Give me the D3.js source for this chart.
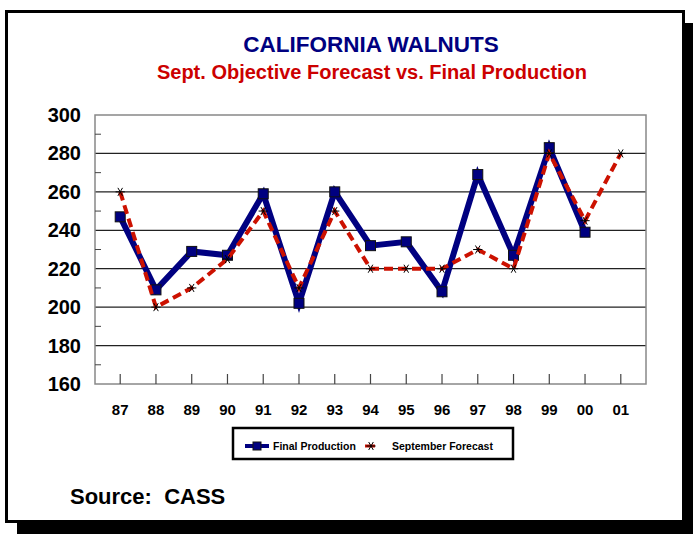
<!DOCTYPE html>
<html><head><meta charset="utf-8">
<script src="https://cdn.jsdelivr.net/npm/d3@7"></script>
<style>
body{margin:0;background:#fff;}
svg text{font-family:"Liberation Sans",Arial,sans-serif;font-weight:bold;}
</style></head>
<body>
<script>
const categories = ["87","88","89","90","91","92","93","94","95","96","97","98","99","00","01"];
const finalProduction = [247,209,229,227,259,202,260,232,234,208,269,227,283,239,null];
const septemberForecast = [260,200,210,225,250,210,250,220,220,220,230,220,280,245,280];
const yTicks = [160,180,200,220,240,260,280,300];
const yMinorTicks = [170,190,210,230,250,270,290];

const W = 693, H = 534;
const svg = d3.select("body").append("svg").attr("width", W).attr("height", H);

// shadow + frame
svg.append("rect").attr("x", 17).attr("y", 23).attr("width", 690).attr("height", 520).attr("fill", "#000");
svg.append("rect").attr("x", 6.5).attr("y", 11.5).attr("width", 677).attr("height", 510)
  .attr("fill", "#fff").attr("stroke", "#000").attr("stroke-width", 3);

// titles
svg.append("text").attr("x", 371).attr("y", 52).attr("text-anchor", "middle")
  .attr("font-size", 22.5).attr("fill", "#000080").text("CALIFORNIA WALNUTS");
svg.append("text").attr("x", 372).attr("y", 79).attr("text-anchor", "middle")
  .attr("font-size", 20).attr("fill", "#CC0000").text("Sept. Objective Forecast vs. Final Production");

const pL = 95, pR = 646, pT = 115, pB = 384;
const x = d3.scalePoint().domain(categories).range([pL, pR]).padding(0.705);
const y = d3.scaleLinear().domain([160, 300]).range([pB, pT]);

const g = svg.append("g");
// gridlines
g.selectAll("line.grid").data(yTicks.filter(v => v > 160 && v < 300)).join("line")
  .attr("x1", pL).attr("x2", pR).attr("y1", d => y(d)).attr("y2", d => y(d))
  .attr("stroke", "#222").attr("stroke-width", 1.2);
// plot border
g.append("rect").attr("x", pL).attr("y", pT).attr("width", pR - pL).attr("height", pB - pT)
  .attr("fill", "none").attr("stroke", "#888").attr("stroke-width", 1.5);
// minor ticks left
g.selectAll("line.minor").data(yMinorTicks).join("line")
  .attr("x1", pL).attr("x2", pL + 6).attr("y1", d => y(d)).attr("y2", d => y(d))
  .attr("stroke", "#444").attr("stroke-width", 1);
// x ticks inside
g.selectAll("line.xt").data(categories).join("line")
  .attr("x1", d => x(d)).attr("x2", d => x(d)).attr("y1", pB).attr("y2", pB - 10)
  .attr("stroke", "#444").attr("stroke-width", 1.2);

// y labels
svg.selectAll("text.yl").data(yTicks).join("text")
  .attr("x", 81).attr("y", d => y(d) + 7).attr("text-anchor", "end")
  .attr("font-size", 20).attr("fill", "#000").text(d => d);
// x labels
svg.selectAll("text.xl").data(categories).join("text")
  .attr("x", d => x(d)).attr("y", 415).attr("text-anchor", "middle")
  .attr("font-size", 15).attr("fill", "#000").text(d => d);

// final production line
const fpData = categories.map((c, i) => ({c, v: finalProduction[i]})).filter(d => d.v != null);
const fcData = categories.map((c, i) => ({c, v: septemberForecast[i]}));
const line = d3.line().x(d => x(d.c)).y(d => y(d.v));
g.append("path").datum(fpData).attr("d", line).attr("fill", "none")
  .attr("stroke", "#000080").attr("stroke-width", 6).attr("stroke-linejoin", "miter");
g.selectAll("rect.fp").data(fpData).join("rect")
  .attr("x", d => x(d.c) - 5).attr("y", d => y(d.v) - 5).attr("width", 10).attr("height", 10)
  .attr("fill", "#000080").attr("stroke", "#111").attr("stroke-width", 1);

// forecast line
g.append("path").datum(fcData).attr("d", line).attr("fill", "none")
  .attr("stroke", "#CC1100").attr("stroke-width", 4).attr("stroke-dasharray", "9,5");
const star = d3.symbol().type(d3.symbolAsterisk).size(60);
g.selectAll("path.fc").data(fcData).join("path")
  .attr("transform", d => `translate(${x(d.c)},${y(d.v)}) rotate(90)`)
  .attr("d", star).attr("fill", "none").attr("stroke", "#000").attr("stroke-width", 1);

// legend
const lg = svg.append("g");
lg.append("rect").attr("x", 233).attr("y", 428).attr("width", 280).attr("height", 31)
  .attr("fill", "#fff").attr("stroke", "#000").attr("stroke-width", 2.5);
lg.append("line").attr("x1", 245).attr("x2", 269).attr("y1", 446).attr("y2", 446)
  .attr("stroke", "#000080").attr("stroke-width", 4);
lg.append("rect").attr("x", 253).attr("y", 442).attr("width", 8).attr("height", 8)
  .attr("fill", "#000080").attr("stroke", "#111").attr("stroke-width", 1);
lg.append("text").attr("x", 273).attr("y", 449.5).attr("font-size", 10.5).attr("fill", "#000").text("Final Production");
lg.append("line").attr("x1", 365).attr("x2", 375).attr("y1", 446).attr("y2", 446)
  .attr("stroke", "#CC1100").attr("stroke-width", 3);
lg.append("path").attr("transform", "translate(371,446) rotate(90)").attr("d", star)
  .attr("fill", "none").attr("stroke", "#000").attr("stroke-width", 1);
lg.append("text").attr("x", 392).attr("y", 449.5).attr("font-size", 10.5).attr("fill", "#000").text("September Forecast");

// source
svg.append("text").attr("x", 70).attr("y", 504).attr("font-size", 22).attr("fill", "#000")
  .style("white-space", "pre").text("Source:  CASS");
</script>
</body></html>
